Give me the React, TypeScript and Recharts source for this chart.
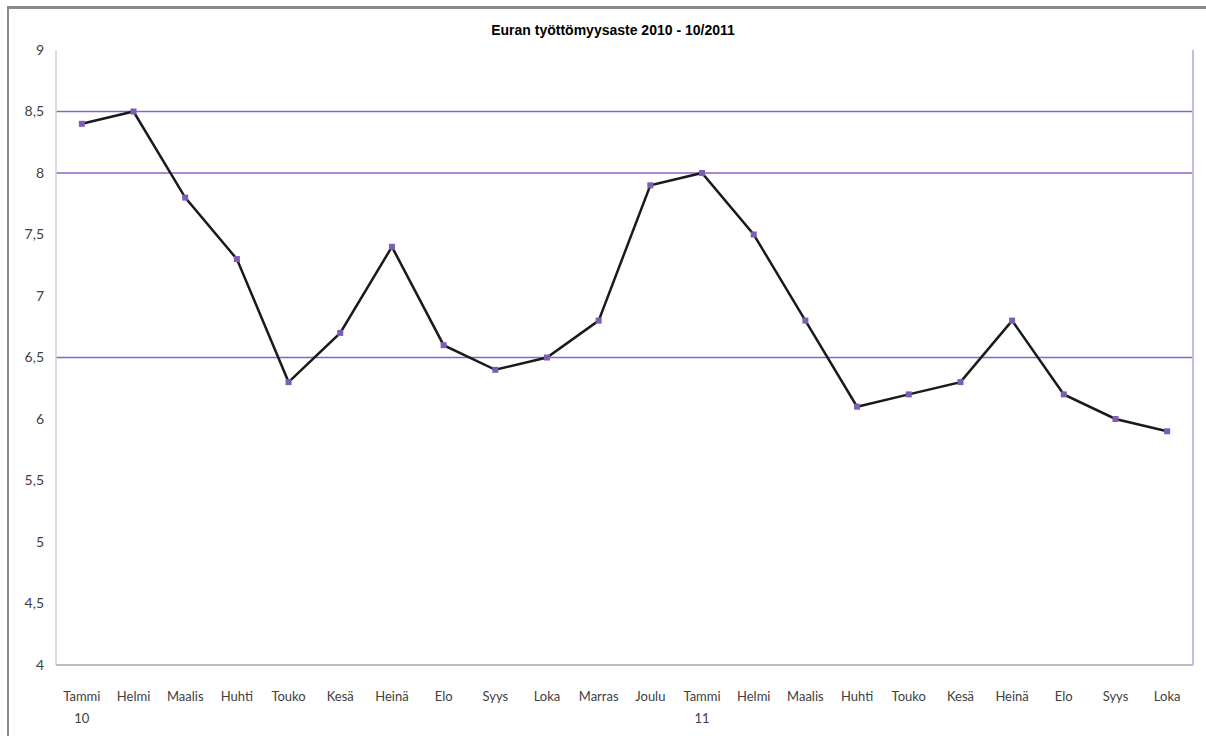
import React from 'react';
import { LineChart, Line, XAxis, YAxis, ReferenceLine } from 'recharts';

// Kuukaudet (x-akseli) ja vuosimerkinnät
const months = [
  'Tammi', 'Helmi', 'Maalis', 'Huhti', 'Touko', 'Kesä', 'Heinä', 'Elo', 'Syys', 'Loka', 'Marras', 'Joulu',
  'Tammi', 'Helmi', 'Maalis', 'Huhti', 'Touko', 'Kesä', 'Heinä', 'Elo', 'Syys', 'Loka',
];
const years = ['10', '', '', '', '', '', '', '', '', '', '', '', '11', '', '', '', '', '', '', '', '', ''];

// Työttömyysaste %
const rates = [8.4, 8.5, 7.8, 7.3, 6.3, 6.7, 7.4, 6.6, 6.4, 6.5, 6.8, 7.9, 8.0, 7.5, 6.8, 6.1, 6.2, 6.3, 6.8, 6.2, 6.0, 5.9];

const yTicks = [4, 4.5, 5, 5.5, 6, 6.5, 7, 7.5, 8, 8.5, 9];
const gridValues = [6.5, 8, 8.5];

const chartData = months.map((m, i) => ({ key: i, month: m, year: years[i], rate: rates[i] }));

const MonthTick = (props: any) => {
  const { x, y, payload } = props;
  const row = chartData[payload.value];
  return (
    <g transform={`translate(${x},${y})`}>
      <text x={0} y={0} dy={28} textAnchor="middle" fontSize={13} fill="#404040" fontFamily="Lato, sans-serif">
        {row.month}
      </text>
      {row.year && (
        <text x={0} y={0} dy={50} textAnchor="middle" fontSize={13} fill="#404040" fontFamily="Lato, sans-serif">
          {row.year}
        </text>
      )}
    </g>
  );
};

const SquareDot = (props: any) => {
  const { cx, cy, index } = props;
  if (cx == null || cy == null) return null;
  return <rect key={index} x={cx - 3} y={cy - 3} width={6} height={6} fill="#7d5fb2" />;
};

export default function App() {
  return (
    <div style={{ position: 'relative', width: 1198, height: 728, fontFamily: 'Lato, sans-serif' }}>
      <LineChart width={1198} height={728} data={chartData} margin={{ top: 42, right: 13, bottom: 0, left: 0 }}>
        <XAxis
          dataKey="key"
          type="category"
          scale="band"
          interval={0}
          tick={<MonthTick />}
          tickLine={false}
          axisLine={{ stroke: '#a6a6a6', strokeWidth: 1.5 }}
          height={71}
        />
        <YAxis
          domain={[4, 9]}
          ticks={yTicks}
          interval={0}
          width={48}
          tickLine={false}
          tickSize={0}
          tickMargin={12}
          axisLine={{ stroke: '#d0d0d0', strokeWidth: 1.5 }}
          tick={{ fontSize: 14, fill: '#404040', fontFamily: 'Lato, sans-serif' }}
          tickFormatter={(v: number) => String(v).replace('.', ',')}
        />
        {gridValues.map((g) => (
          <ReferenceLine key={g} y={g} stroke="#8c62c4" strokeWidth={1.5} />
        ))}
        <Line
          type="linear"
          dataKey="rate"
          stroke="#1a1a1a"
          strokeWidth={2.5}
          dot={<SquareDot />}
          activeDot={false}
          isAnimationActive={false}
        />
      </LineChart>
      <div
        style={{
          position: 'absolute',
          left: 1184,
          top: 42,
          width: 2,
          height: 615,
          background: '#c9b8e4',
          pointerEvents: 'none',
        }}
      />
      <div
        style={{
          position: 'absolute',
          left: 0,
          top: 14,
          width: 1210,
          textAlign: 'center',
          fontFamily: '"Liberation Sans", Arial, sans-serif',
          fontWeight: 'bold',
          fontSize: 14,
          color: '#000',
          pointerEvents: 'none',
        }}
      >
        Euran työttömyysaste 2010 - 10/2011
      </div>
      <div
        style={{
          position: 'fixed',
          left: 7,
          top: 6,
          width: 1199,
          height: 730,
          borderTop: '3px solid #8a8a8a',
          borderLeft: '2px solid #8a8a8a',
          boxSizing: 'border-box',
          pointerEvents: 'none',
          zIndex: 10,
        }}
      />
    </div>
  );
}
